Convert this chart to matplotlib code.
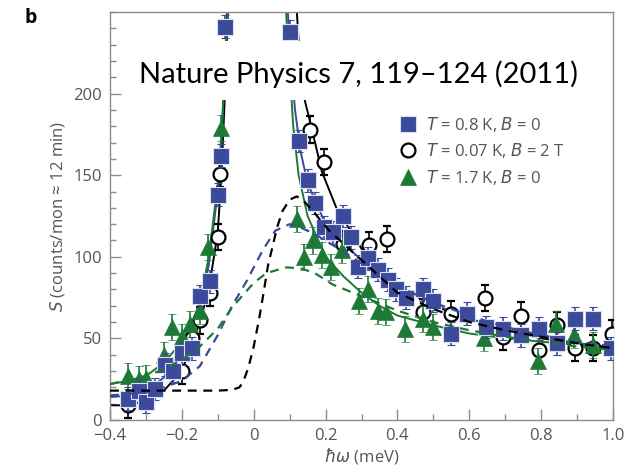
import matplotlib
matplotlib.use("Agg")
import matplotlib.pyplot as plt
from matplotlib.ticker import MultipleLocator
from matplotlib.patches import Rectangle

plt.rcParams['font.family'] = ['Open Sans', 'DejaVu Sans']

# data
# T = 0.8 K, B = 0 (blue squares)
sq_x = [-0.35, -0.32, -0.30, -0.275, -0.247, -0.224, -0.20, -0.173, -0.15, -0.122,
        -0.10, -0.09, -0.08, 0.10, 0.125, 0.15, 0.17, 0.195, 0.22, 0.248, 0.27,
        0.29, 0.318, 0.345, 0.373, 0.396, 0.424, 0.47, 0.50, 0.55, 0.595, 0.646,
        0.695, 0.744, 0.795, 0.845, 0.895, 0.945, 0.995]
sq_y = [13, 18, 11, 19, 34, 30, 41, 44, 76, 85,
        138, 162, 241, 238, 171, 147, 133, 118, 115, 125, 112,
        94, 99, 92, 86, 80, 75, 80, 73, 53, 65, 57,
        56, 52, 56, 47, 62, 62, 44]

# T = 0.07 K, B = 2 T (open circles)
ci_x = [-0.35, -0.20, -0.173, -0.15, -0.122, -0.10, -0.094, 0.157, 0.197, 0.248,
        0.322, 0.37, 0.47, 0.55, 0.645, 0.695, 0.745, 0.795, 0.845, 0.895, 0.945, 0.998]
ci_y = [9, 30, 50, 61, 78, 112, 151, 178, 158, 108,
        107, 111, 66, 65, 75, 51, 64, 43, 58, 44, 44, 53]

# T = 1.7 K, B = 0 (green triangles)
tr_x = [-0.35, -0.32, -0.30, -0.25, -0.227, -0.20, -0.176, -0.15, -0.127, -0.092,
        0.12, 0.14, 0.165, 0.19, 0.215, 0.245, 0.294, 0.318, 0.345, 0.368,
        0.422, 0.47, 0.498, 0.64, 0.79, 0.84, 0.892, 0.943]
tr_y = [27, 25, 26, 40, 57, 51, 59, 67, 106, 179,
        123, 100, 110, 101, 94, 104, 73, 80, 67, 66,
        56, 62, 57, 50, 36, 59, 52, 46]

sq_err = 7
ci_err = 8
tr_err = 8

# fitted curves (solid), left and right branches
gfit_l_x = [-0.40, -0.35, -0.30, -0.25, -0.20, -0.175, -0.15, -0.125, -0.10, -0.09, -0.08, -0.072]
gfit_l_y = [22, 24, 27, 35, 48, 58, 72, 100, 145, 175, 215, 250]
gfit_r_x = [0.09, 0.10, 0.11, 0.125, 0.15, 0.20, 0.25, 0.30, 0.35, 0.40, 0.50, 0.60, 0.70, 0.80, 0.90, 1.00]
gfit_r_y = [250, 215, 180, 150, 125, 100, 88, 78, 70, 64, 58, 53, 50, 48, 46, 44]

bfit_l_x = [-0.40, -0.35, -0.30, -0.25, -0.20, -0.175, -0.15, -0.125, -0.10, -0.09, -0.08, -0.075]
bfit_l_y = [14, 15, 18, 26, 40, 52, 70, 95, 140, 170, 215, 250]
bfit_r_x = [0.095, 0.105, 0.115, 0.13, 0.15, 0.20, 0.25, 0.30, 0.35, 0.40, 0.50, 0.60, 0.70, 0.80, 0.90, 1.00]
bfit_r_y = [250, 215, 190, 165, 145, 120, 108, 98, 90, 82, 71, 62, 56, 51, 47, 44]

kfit_l_x = [-0.40, -0.35, -0.30, -0.25, -0.20, -0.175, -0.15, -0.125, -0.10, -0.09, -0.08, -0.072]
kfit_l_y = [9, 9, 12, 18, 30, 45, 60, 80, 115, 150, 200, 250]
kfit_r_x = [0.12, 0.13, 0.142, 0.16, 0.19, 0.23, 0.30, 0.40, 0.50, 0.60, 0.70, 0.80, 0.90, 1.00]
kfit_r_y = [250, 215, 196, 180, 152, 130, 105, 82, 70, 62, 56, 50, 47, 44]

# model curves (dashed)
bdash_x = [-0.40, -0.30, -0.25, -0.20, -0.15, -0.10, -0.06, -0.02, 0.025, 0.06, 0.10, 0.13, 0.16,
           0.20, 0.30, 0.40, 0.50, 0.60, 0.70, 0.80, 0.90, 1.00]
bdash_y = [15, 17, 20, 24, 33, 52, 70, 85, 104, 116, 120, 118, 115,
           110, 96, 82, 72, 64, 57, 52, 48, 45]

gdash_x = [-0.40, -0.30, -0.25, -0.20, -0.15, -0.10, -0.06, 0.0, 0.035, 0.09, 0.13, 0.17,
           0.22, 0.31, 0.40, 0.50, 0.60, 0.70, 0.80, 0.90, 1.00]
gdash_y = [22, 27, 31, 37, 45, 56, 69, 84, 90, 93.5, 93, 90,
           83, 75, 67, 60, 55, 51, 48, 45, 43]

kdash_x = [-0.40, -0.30, -0.20, -0.10, -0.06, -0.04, -0.03, -0.015, 0.0, 0.015, 0.026, 0.04,
           0.05, 0.065, 0.08, 0.10, 0.12, 0.14, 0.165, 0.21, 0.25, 0.30, 0.35, 0.40,
           0.50, 0.60, 0.70, 0.80, 0.90, 1.00]
kdash_y = [18, 18, 18, 18, 18.5, 20, 23, 32, 45, 62, 76, 95,
           104, 118, 128, 135, 137, 134, 128, 116, 108, 98, 88, 78,
           68, 60, 55, 51, 47, 44]

xticks = [-0.4, -0.2, 0, 0.2, 0.4, 0.6, 0.8, 1.0]
xticklabels = ['\u22120.4', '\u22120.2', '0', '0.2', '0.4', '0.6', '0.8', '1.0']
yticks = [0, 50, 100, 150, 200]

blue = '#3b4a9b'
green = '#1c7a34'
grey = '#8c8c8c'
textgrey = '#555555'

fig = plt.figure(figsize=(6.33, 4.72), dpi=100)
ax = fig.add_axes([110 / 633, 52 / 472, 503 / 633, 408 / 472])

# solid fits
ax.plot(kfit_l_x, kfit_l_y, color='black', lw=1.4, zorder=2)
ax.plot(kfit_r_x, kfit_r_y, color='black', lw=1.4, zorder=2)
ax.plot(bfit_l_x, bfit_l_y, color=blue, lw=1.4, zorder=2)
ax.plot(bfit_r_x, bfit_r_y, color=blue, lw=1.4, zorder=2)
ax.plot(gfit_l_x, gfit_l_y, color=green, lw=1.4, zorder=2)
ax.plot(gfit_r_x, gfit_r_y, color=green, lw=1.4, zorder=2)

# data
ax.errorbar(ci_x, ci_y, yerr=ci_err, fmt='o', ms=10, mfc='white', mec='black', mew=1.6,
            ecolor='black', elinewidth=1.2, capsize=3, capthick=1.2, zorder=3,
            label='$T$ = 0.07 K, $B$ = 2 T')
ax.errorbar(tr_x, tr_y, yerr=tr_err, fmt='^', ms=11, mfc=green, mec=green, mew=0.5,
            ecolor=green, elinewidth=1.2, capsize=3, capthick=1.2, zorder=4,
            label='$T$ = 1.7 K, $B$ = 0')
ax.errorbar(sq_x, sq_y, yerr=sq_err, fmt='s', ms=11, mfc=blue, mec='#dcdff0', mew=0.8,
            ecolor=blue, elinewidth=1.2, capsize=3, capthick=1.2, zorder=5,
            label='$T$ = 0.8 K, $B$ = 0')

# dashed model curves
ax.plot(bdash_x, bdash_y, color=blue, lw=1.6, ls=(0, (4, 3)), zorder=6)
ax.plot(gdash_x, gdash_y, color=green, lw=1.6, ls=(0, (4, 3)), zorder=6)
ax.plot(kdash_x, kdash_y, color='black', lw=1.6, ls=(0, (4, 3)), zorder=6)

ax.set_xlim(-0.4, 1.0)
ax.set_ylim(0, 250)
ax.set_xticks(xticks)
ax.set_xticklabels(xticklabels)
ax.set_yticks(yticks)
ax.xaxis.set_minor_locator(MultipleLocator(0.1))
ax.yaxis.set_minor_locator(MultipleLocator(10))
ax.tick_params(which='both', direction='in', colors=grey, labelcolor=textgrey,
               labelsize=12, top=False, right=False)
ax.tick_params(which='major', length=8, width=1)
ax.tick_params(which='minor', length=4, width=1)
ax.tick_params(axis='x', which='major', pad=6)
ax.tick_params(axis='y', which='major', pad=6)
for s in ax.spines.values():
    s.set_color(grey)
    s.set_linewidth(1)

ax.set_xlabel('$\\hbar\\omega$ (meV)', fontsize=12, color=textgrey, labelpad=1)
ax.set_ylabel('$S$ (counts/mon \u2248 12 min)', fontsize=12, color=textgrey, labelpad=4)

# white band with citation
ax.add_patch(Rectangle((0.03, 0.784), 0.944, 0.144, transform=ax.transAxes,
                       facecolor='white', edgecolor='none', zorder=7))
ax.text(0.494, 0.825, 'Nature Physics 7, 119\u2013124 (2011)', transform=ax.transAxes,
        fontsize=21, family=['Lato', 'DejaVu Sans'], color='black', ha='center',
        va='baseline', zorder=8)

handles, labels = ax.get_legend_handles_labels()
order = [2, 0, 1]
leg = ax.legend([handles[i][0] for i in order], [labels[i] for i in order],
                loc='upper left', bbox_to_anchor=(0.562, 0.765), frameon=False,
                fontsize=12, handlelength=1.0, handletextpad=0.6, labelspacing=0.45,
                borderaxespad=0)
for t in leg.get_texts():
    t.set_color(textgrey)
leg.set_zorder(9)

fig.text(25 / 633, 1 - 18 / 472, 'b', fontsize=14, fontweight='bold', va='center', ha='left')

fig.savefig('out.png', dpi=100)
